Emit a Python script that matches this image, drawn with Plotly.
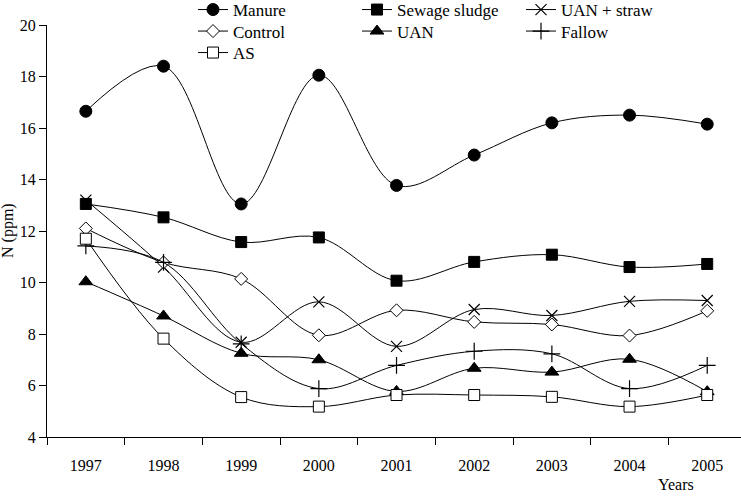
import plotly.graph_objects as go

years = ["1997", "1998", "1999", "2000", "2001", "2002", "2003", "2004", "2005"]
manure = [16.65, 18.4, 13.05, 18.05, 13.77, 14.95, 16.2, 16.5, 16.15]
sewage = [13.05, 12.53, 11.57, 11.75, 10.07, 10.8, 11.08, 10.6, 10.72]
uan_straw = [13.2, 10.6, 7.68, 9.25, 7.52, 8.95, 8.72, 9.27, 9.3]
control = [12.1, 10.78, 10.14, 7.95, 8.92, 8.47, 8.37, 7.94, 8.9]
uan = [10.03, 8.7, 7.25, 7.0, 5.77, 6.67, 6.52, 7.02, 5.76]
fallow = [11.42, 10.78, 7.62, 5.88, 6.78, 7.33, 7.23, 5.88, 6.78]
as_ = [11.7, 7.82, 5.55, 5.18, 5.63, 5.63, 5.56, 5.18, 5.63]

FONT = "Liberation Serif"
PLOT_W, PLOT_H, L, T = 694, 412, 47, 25

series = [
    ("Manure", manure, "legend", dict(symbol="circle", size=12, color="black", line=dict(color="black", width=1))),
    ("Sewage sludge", sewage, "legend", dict(symbol="square", size=11, color="black", line=dict(color="black", width=1))),
    ("UAN + straw", uan_straw, "legend", dict(symbol="x-thin-open", size=11, color="black", line=dict(color="black", width=1.2))),
    ("Control", control, "legend2", dict(symbol="diamond", size=10, color="white", line=dict(color="black", width=1))),
    ("UAN", uan, "legend2", dict(symbol="triangle-up", size=12, color="black", line=dict(color="black", width=1))),
    ("Fallow", fallow, "legend2", dict(symbol="cross-thin-open", size=12, color="black", line=dict(color="black", width=1.2))),
    ("AS", as_, "legend3", dict(symbol="square", size=11, color="white", line=dict(color="black", width=1))),
]

fig = go.Figure()
for name, vals, leg, mk in series:
    fig.add_trace(go.Scatter(
        x=years, y=vals, name=name, mode="lines+markers", legend=leg,
        line=dict(color="black", width=1.0, shape="spline", smoothing=1.0),
        marker=mk, cliponaxis=False,
    ))


def legend_at(ypx):
    return dict(
        orientation="h", x=(193 - L) / PLOT_W, xanchor="left",
        y=1 + (T - ypx) / PLOT_H, yanchor="middle",
        entrywidth=119, itemwidth=30,
        font=dict(family=FONT, size=17, color="black"),
        bgcolor="rgba(0,0,0,0)", borderwidth=0,
    )


fig.update_layout(
    width=741, height=496,
    margin=dict(l=L, r=0, t=T, b=496 - T - PLOT_H, autoexpand=False),
    paper_bgcolor="white", plot_bgcolor="white",
    font=dict(family=FONT, size=16, color="black"),
    showlegend=True,
    legend=legend_at(10),
    legend2=legend_at(31.5),
    legend3=legend_at(53),
    xaxis=dict(
        type="category", range=[-0.5, 8.435], tickson="boundaries",
        ticks="outside", ticklen=7, tickcolor="black", tickwidth=1,
        showline=True, linecolor="black", linewidth=1,
        showgrid=False, zeroline=False, ticklabelstandoff=14,
    ),
    yaxis=dict(
        range=[4, 20], dtick=2, ticks="outside", ticklen=7, tickcolor="black",
        showline=True, linecolor="black", linewidth=1,
        showgrid=False, zeroline=False,
    ),
    annotations=[
        dict(text="N (ppm)", xref="paper", yref="paper", x=(8 - L) / PLOT_W, y=0.5,
             textangle=-90, showarrow=False, xanchor="center", yanchor="middle",
             font=dict(family=FONT, size=16)),
        dict(text="Years", xref="paper", yref="paper", x=(676 - L) / PLOT_W,
             y=-(495 - T - PLOT_H) / PLOT_H,
             showarrow=False, xanchor="center", yanchor="bottom",
             font=dict(family=FONT, size=16)),
    ],
)

fig.write_html("out.html")
